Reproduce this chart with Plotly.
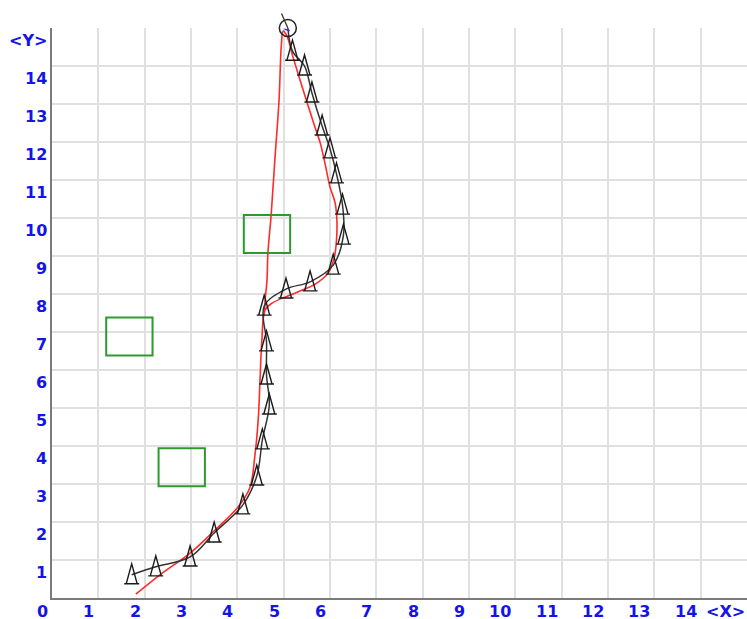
import plotly.graph_objects as go

# Planned route nodes (waypoints drawn as cones)
node_x = [1.72, 2.24, 2.98, 3.50, 4.12, 4.42, 4.54, 4.69, 4.63, 4.63, 4.58,
          5.05, 5.57, 6.07, 6.29, 6.27, 6.14, 6.00, 5.83, 5.61, 5.45, 5.19]
node_y = [0.61, 0.82, 1.08, 1.71, 2.45, 3.21, 4.16, 5.08, 5.87, 6.74, 7.68,
          8.13, 8.32, 8.76, 9.55, 10.34, 11.16, 11.82, 12.42, 13.29, 14.00, 14.39]

# Goal position
goal_x = [5.09]
goal_y = [15.0]

# Heading marker at the goal
heading_x = [5.02, 5.13]
heading_y = [14.97, 14.93]

# Reference trajectory
ref_x = [1.81, 2.33, 2.98, 3.52, 4.02, 4.27, 4.38, 4.45, 4.49, 4.53, 4.60,
         4.75, 5.09, 5.42, 5.68, 5.96, 6.09, 6.14, 6.15, 6.11, 6.00, 5.89,
         5.79, 5.66, 5.42, 5.20, 5.07, 4.99, 4.95, 4.90, 4.81, 4.73,
         4.66, 4.64, 4.60, 4.58]
ref_y = [0.10, 0.61, 1.18, 1.79, 2.40, 2.90, 3.76, 4.68, 5.74, 6.79, 7.58,
         7.76, 7.95, 8.11, 8.26, 8.55, 8.95, 9.42, 9.90, 10.40, 10.82, 11.45,
         11.97, 12.45, 13.37, 14.24, 14.79, 14.92, 14.55, 13.10, 11.53, 10.08,
         9.08, 8.37, 7.84, 7.45]

# Obstacles (centres)
obst_x = [4.64, 1.67, 2.80]
obst_y = [9.58, 6.88, 3.44]

x_ticks = list(range(0, 15))
y_ticks = list(range(1, 15))

LABEL_FONT = dict(family="DejaVu Sans", size=16, color="#1414e6")

fig = go.Figure()

fig.add_trace(go.Scatter(
    x=ref_x, y=ref_y, mode="lines",
    line=dict(color="#ff2a2a", width=1.6, shape="spline", smoothing=1.0),
    hoverinfo="skip", showlegend=False))

path_x = node_x + goal_x
path_y = node_y + goal_y
fig.add_trace(go.Scatter(
    x=path_x, y=path_y, mode="lines",
    line=dict(color="#333333", width=1.5, shape="spline", smoothing=1.0),
    hoverinfo="skip", showlegend=False))

fig.add_trace(go.Scatter(
    x=heading_x, y=heading_y, mode="lines",
    line=dict(color="#2030e0", width=1.5), cliponaxis=False,
    hoverinfo="skip", showlegend=False))

fig.add_trace(go.Scatter(
    x=goal_x, y=goal_y, mode="markers", cliponaxis=False,
    marker=dict(symbol="circle-open", size=17, color="#222222",
                line=dict(width=1.5, color="#222222")),
    hoverinfo="skip", showlegend=False))

shapes = []
half = 0.5
for cx, cy in zip(obst_x, obst_y):
    shapes.append(dict(type="rect", xref="x", yref="y",
                       x0=cx - half, x1=cx + half, y0=cy - half, y1=cy + half,
                       line=dict(color="#2e9a2e", width=2), layer="above"))

cone = "M -7.5,-9 L 7.5,-9 M -5.5,-9 L 0,11 L 5.5,-9"
for nx, ny in zip(node_x, node_y):
    shapes.append(dict(type="path", xref="x", yref="y",
                       xsizemode="pixel", ysizemode="pixel",
                       xanchor=nx, yanchor=ny, path=cone,
                       line=dict(color="#1a1a1a", width=1.4), layer="above"))

annotations = []
for v in x_ticks:
    annotations.append(dict(x=v, y=0, xref="x", yref="paper", text=f"<b>{v}</b>",
                            showarrow=False, xanchor="right", yanchor="middle",
                            xshift=-3, yshift=-13, height=14, borderpad=0,
                            font=LABEL_FONT))
annotations.append(dict(x=15, y=0, xref="x", yref="paper", text="<b>&lt;X&gt;</b>",
                        showarrow=False, xanchor="right", yanchor="middle",
                        xshift=-1, yshift=-13, height=14, borderpad=0,
                        font=LABEL_FONT))
for v in y_ticks:
    annotations.append(dict(x=0, y=v, xref="paper", yref="y", text=f"<b>{v}</b>",
                            showarrow=False, xanchor="right", yanchor="middle",
                            xshift=-3, yshift=-12, font=LABEL_FONT))
annotations.append(dict(x=0, y=15, xref="paper", yref="y", text="<b>&lt;Y&gt;</b>",
                        showarrow=False, xanchor="right", yanchor="middle",
                        xshift=-3, yshift=-12, font=LABEL_FONT))
# tail of the route past the goal
annotations.append(dict(x=goal_x[0], y=goal_y[0], xref="x", yref="y", text="",
                        showarrow=True, arrowhead=0, arrowwidth=1.3,
                        arrowcolor="#333333", ax=-7, ay=-16, standoff=0))

axis_common = dict(range=[0, 15], dtick=1, tick0=0, showgrid=True,
                   gridcolor="#e0e0e0", gridwidth=2, zeroline=False,
                   showticklabels=False, ticks="", showline=True,
                   linecolor="#7a7a7a", linewidth=1.5, fixedrange=True)

fig.update_layout(
    width=747, height=619,
    margin=dict(l=52, r=0, t=28, b=21),
    paper_bgcolor="white", plot_bgcolor="white",
    xaxis=axis_common, yaxis=axis_common,
    shapes=shapes, annotations=annotations,
    showlegend=False,
)

fig.write_html("out.html")
